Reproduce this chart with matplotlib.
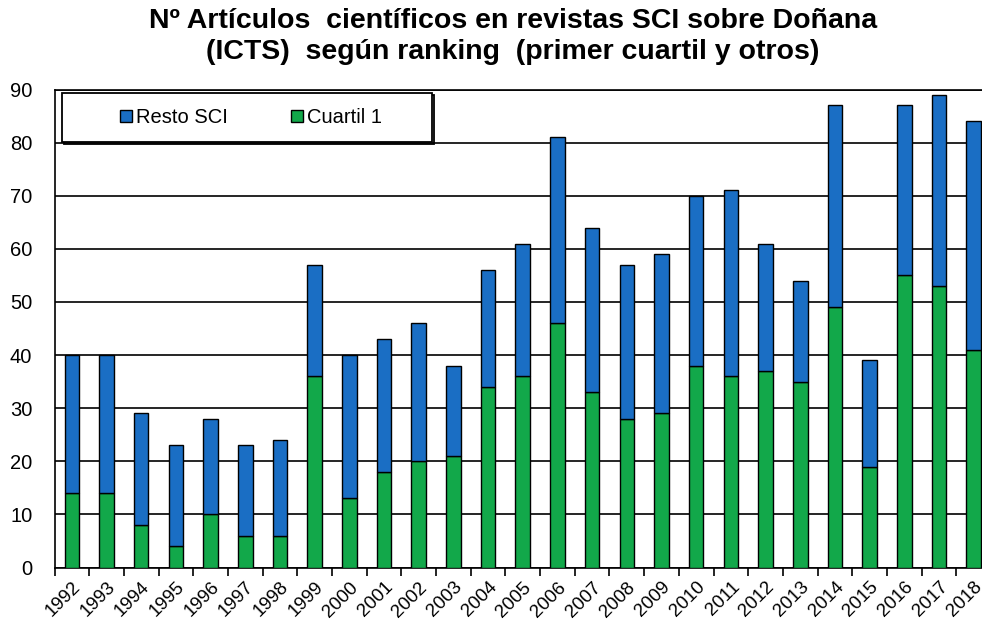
import matplotlib
matplotlib.use("Agg")
import matplotlib.pyplot as plt
from matplotlib.patches import Rectangle
import numpy as np

years = [str(y) for y in range(1992, 2019)]
total = [40, 40, 29, 23, 28, 23, 24, 57, 40, 43, 46, 38, 56, 61, 81, 64, 57, 59,
         70, 71, 61, 54, 87, 39, 87, 89, 84]
cuartil1 = [14, 14, 8, 4, 10, 6, 6, 36, 13, 18, 20, 21, 34, 36, 46, 33, 28, 29,
            38, 36, 37, 35, 49, 19, 55, 53, 41]
resto = [t - q for t, q in zip(total, cuartil1)]

plt.rcParams['font.family'] = ['Liberation Sans', 'DejaVu Sans']

W, H = 982, 627
fig = plt.figure(figsize=(W/100, H/100), dpi=100)
ax = fig.add_axes([54.5/W, 1 - 567.5/H, (991 - 54.5)/W, (567.5 - 89.5)/H])

x = np.arange(len(years))
green = '#12a84a'
blue = '#1a6ec4'
ax.bar(x, cuartil1, width=0.42, color=green, edgecolor='black', linewidth=1.0,
       label='Cuartil 1', zorder=3)
ax.bar(x, resto, width=0.42, bottom=cuartil1, color=blue, edgecolor='black',
       linewidth=1.0, label='Resto SCI', zorder=3)

ax.set_xlim(-0.5, len(years) - 0.5)
ax.set_ylim(0, 90)
ax.set_yticks(range(0, 91, 10))
ax.yaxis.grid(True, color='black', linewidth=1.2, zorder=0)
ax.tick_params(axis='y', length=0, labelsize=14.5, pad=16)

ax.set_xticks(x)
ax.set_xticklabels(years, rotation=45, fontsize=13.5, ha='right', va='top',
                   rotation_mode='anchor')
ax.tick_params(axis='x', length=0, pad=8)
ax.set_xticks(np.arange(-0.5, len(years), 1), minor=True)
ax.tick_params(axis='x', which='minor', length=6, width=1.2, direction='out')

ax.spines['right'].set_visible(False)
for s in ['top', 'left', 'bottom']:
    ax.spines[s].set_linewidth(1.2)

# legend box
bx0, by0, bx1, by1 = 62, 93, 432, 142
fig.patches.append(Rectangle((bx0/W, 1 - by1/H), (bx1-bx0)/W, (by1-by0)/H,
                             transform=fig.transFigure, facecolor='white',
                             edgecolor='black', linewidth=1.3, zorder=5))
fig.patches.append(Rectangle(((bx0+1.5)/W, 1 - (by1+1.5)/H), (bx1-bx0)/W, (by1-by0)/H,
                             transform=fig.transFigure, facecolor='none',
                             edgecolor='black', linewidth=1.3, zorder=4))
handles, labels = ax.get_legend_handles_labels()
leg = fig.legend(handles[::-1], labels[::-1], loc='center', ncol=2,
                 bbox_to_anchor=((bx0+bx1)/2/W + 4/W, 1 - (by0+by1)/2/H),
                 fontsize=14.5, frameon=False, handlelength=0.6,
                 handleheight=0.6, handletextpad=0.2, borderaxespad=0,
                 columnspacing=3.1)
leg.set_zorder(6)

fig.text(0.522, 1 - 8/H,
         'Nº Artículos  científicos en revistas SCI sobre Doñana\n(ICTS)  según ranking  (primer cuartil y otros)',
         ha='center', va='top', fontsize=20.5, fontweight='bold',
         linespacing=1.25)

fig.savefig('out.png', dpi=100)
